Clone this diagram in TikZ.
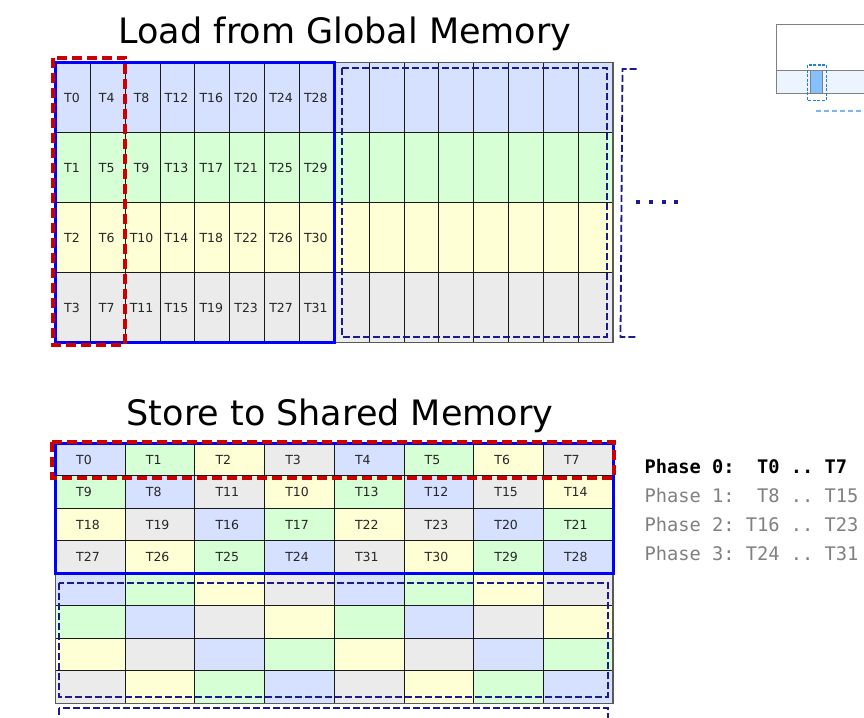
\documentclass[tikz,border=0pt]{standalone}
\usepackage{fontspec}
\setmainfont{DejaVu Sans}
\setmonofont{DejaVu Sans Mono}
\usepackage{xcolor}
\usetikzlibrary{calc}

\definecolor{cell0}{RGB}{214,224,255}
\definecolor{cell1}{RGB}{214,255,214}
\definecolor{cell2}{RGB}{255,255,214}
\definecolor{cell3}{RGB}{235,235,235}
\definecolor{warpred}{RGB}{204,0,0}
\definecolor{tilenavy}{RGB}{27,27,143}
\definecolor{minigray}{RGB}{128,128,128}
\definecolor{miniband}{RGB}{235,244,255}
\definecolor{minicell}{RGB}{133,193,255}
\definecolor{minidash}{RGB}{31,127,217}
\definecolor{minitrail}{RGB}{127,181,229}

\begin{document}
\begin{tikzpicture}[x=1pt,y=-1pt,
    cellbox/.style={draw=black!90, line width=0.9pt},
    gridframe/.style={draw=black!65, line width=1.5pt},
    celltext/.style={font=\fontsize{12.5}{14}\selectfont, text=black!85, text height=9pt, text depth=0pt},
    warpbox/.style={draw=blue, line width=3pt},
    phasebox/.style={draw=warpred, line width=4pt, dash pattern=on 10pt off 5pt},
    tilebox/.style={draw=tilenavy, line width=1.8pt, dash pattern=on 7pt off 3pt},
    titletext/.style={font=\fontsize{35}{42}\selectfont, anchor=base},
    phasetext/.style={font=\ttfamily\fontsize{18.7}{22}\selectfont, anchor=base west, text=black!50}]
    \path[use as bounding box, clip] (0,0) rectangle (864,717);

    % Titles
    \node[titletext] (title-load) at (345,43.3) {Load from Global Memory};
    \node[titletext] (title-store) at (340,425.5) {Store to Shared Memory};

    % Global memory tile
    \foreach \r in {0,...,3}
      \foreach \c in {0,...,15}
        \draw[cellbox, fill=cell\r] ({55.5+34.85*\c},{62.5+70*\r}) rectangle ++(34.85,70);
    \draw[gridframe] (55.5,62.5) rectangle (613.1,342.5);
    \foreach \r in {0,...,3}
      \foreach \c in {0,...,7} {
        \pgfmathtruncatemacro\tid{4*\c+\r}
        \node[celltext] (load-\tid) at ({55.5+34.85*(\c+0.5)-1},{62.5+70*(\r+0.5)}) {T\tid};
      }
    \draw[warpbox] (55.5,62.5) rectangle (334.3,342.5);
    \draw[phasebox] (53,58) rectangle (125.3,345);
    \draw[tilebox] (341.7,68.3) rectangle (606.7,336.7);
    \draw[tilebox] (636.7,69) -- (622.5,69) -- (620.5,337) -- (637,337);
    \foreach \d in {0,...,3}
      \fill[tilenavy] ({635.7+12.9*\d},200) rectangle ++(4,4);

    % Shared memory tile
    \foreach \r in {0,...,7}
      \foreach \c in {0,...,7} {
        \pgfmathtruncatemacro\a{mod(\c,4)}
        \pgfmathtruncatemacro\b{mod(\r,4)}
        \pgfmathtruncatemacro\k{mod(\a+\b,2)+2*mod(floor(\a/2)+floor(\b/2),2)}
        \draw[cellbox, fill=cell\k] ({55.5+69.7*\c},{443.3+32.5*\r}) rectangle ++(69.7,32.5);
      }
    \draw[gridframe] (55.5,443.3) rectangle (613.1,703.3);
    \foreach \r in {0,...,3}
      \foreach \c in {0,...,7} {
        \pgfmathtruncatemacro\a{mod(\c,4)}
        \pgfmathtruncatemacro\k{mod(\a+\r,2)+2*mod(floor(\a/2)+floor(\r/2),2)}
        \pgfmathtruncatemacro\tid{8*\r+4*floor(\c/4)+\k}
        \node[celltext, anchor=west, inner sep=0pt] (store-\tid) at ({55.5+69.7*\c+20.5},{443.3+32.5*(\r+0.5)}) {T\tid};
      }
    \draw[warpbox] (55.5,443.3) rectangle (613.1,573.3);
    \draw[phasebox] (52.3,442.3) rectangle (614,477.7);
    \draw[tilebox] (59.3,582.7) rectangle (607.7,696.7);
    \draw[tilebox] (59.3,708.3) rectangle (607.7,760);

    % Phases
    \node[phasetext, text=black, font=\ttfamily\bfseries\fontsize{18.7}{22}\selectfont] (phase0) at (641,473.3) {Phase 0:\ \ T0 .. T7};
    \node[phasetext] (phase1) at (641,502.5) {Phase 1:\ \ T8 .. T15};
    \node[phasetext] (phase2) at (641,531.6) {Phase 2: T16 .. T23};
    \node[phasetext] (phase3) at (641,560.7) {Phase 3: T24 .. T31};

    % Thumbnail
    \draw[draw=minigray, fill=miniband, line width=1pt] (776.3,70.3) rectangle (880,93.3);
    \draw[draw=minigray, line width=1pt] (776.3,70.3) -- (776.3,24.3) -- (880,24.3);
    \draw[draw=minigray, fill=minicell, line width=1pt] (810.3,70.3) rectangle (822.3,93.3);
    \draw[draw=minidash, line width=1pt, dash pattern=on 3pt off 1.5pt] (807.3,65) rectangle (826.3,100);
    \draw[draw=minitrail, line width=2pt, dash pattern=on 5pt off 3pt] (816,111) -- (880,111);
\end{tikzpicture}
\end{document}
